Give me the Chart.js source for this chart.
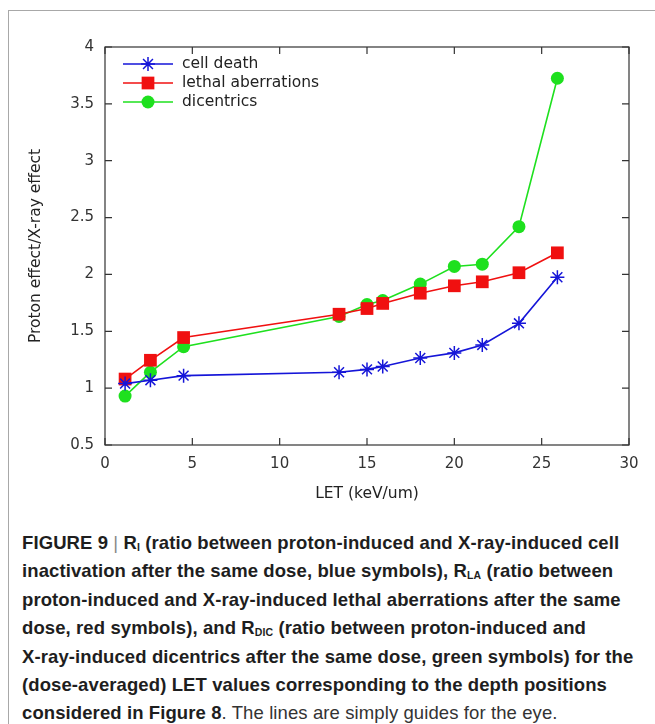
<!DOCTYPE html>
<html>
<head>
<meta charset="utf-8">
<script src="https://cdn.jsdelivr.net/npm/chart.js@4.4.1/dist/chart.umd.min.js"></script>
<style>
  html, body { margin: 0; padding: 0; background: #fff; }
  body { width: 655px; height: 724px; position: relative; overflow: hidden; }
  #frame {
    position: absolute; left: 8px; top: 10px; width: 700px; height: 760px;
    border-top: 1.5px solid #a8a8a8; border-left: 1.5px solid #a8a8a8;
  }
  #chart { position: absolute; left: 0; top: 0; }
  #caption {
    position: absolute; left: 22px; top: 529px; width: 660px;
    font-family: "Liberation Sans", Arial, sans-serif; font-size: 18.5px;
    font-weight: bold; color: #1e1e1e; letter-spacing: 0.1px;
  }
  #caption div { white-space: nowrap; height: 28.4px; line-height: 28.4px; }
  #caption sub { font-size: 10.5px; line-height: 0; vertical-align: baseline; position: relative; top: 2px; }
  #caption .bar { font-weight: normal; color: #888; }
  #caption .plain { font-weight: normal; color: #333; }
</style>
</head>
<body>
<div id="frame"></div>
<canvas id="chart" width="655" height="520"></canvas>
<div id="caption">
  <div>FIGURE 9 <span class="bar">|</span> R<sub>I</sub> (ratio between proton-induced and X-ray-induced cell</div>
  <div>inactivation after the same dose, blue symbols), R<sub>LA</sub> (ratio between</div>
  <div>proton-induced and X-ray-induced lethal aberrations after the same</div>
  <div>dose, red symbols), and R<sub>DIC</sub> (ratio between proton-induced and</div>
  <div>X-ray-induced dicentrics after the same dose, green symbols) for the</div>
  <div>(dose-averaged) LET values corresponding to the depth positions</div>
  <div>considered in Figure 8<span class="plain">. The lines are simply guides for the eye.</span></div>
</div>
<script>
// values
const letValues = [1.15, 2.6, 4.5, 13.4, 15.0, 15.9, 18.05, 20.0, 21.6, 23.7, 25.9];
const cellDeath = [1.04, 1.07, 1.11, 1.14, 1.165, 1.19, 1.265, 1.31, 1.38, 1.57, 1.975];
const lethalAberrations = [1.08, 1.245, 1.445, 1.65, 1.70, 1.745, 1.835, 1.90, 1.935, 2.015, 2.19];
const dicentrics = [0.93, 1.14, 1.365, 1.63, 1.735, 1.77, 1.915, 2.07, 2.09, 2.42, 3.725];
const xTicks = [0, 5, 10, 15, 20, 25, 30];
const yTicks = [0.5, 1, 1.5, 2, 2.5, 3, 3.5, 4];

const pts = (ys) => ys.map((y, i) => ({ x: letValues[i], y: y }));
const FONT = "'DejaVu Sans', sans-serif";

// gnuplot style box with inward ticks on all four sides, plus key
const boxPlugin = {
  id: 'gnuBox',
  afterDraw(chart) {
    const { ctx, chartArea: a, scales } = chart;
    const tl = 7;
    ctx.save();
    ctx.strokeStyle = '#333';
    ctx.lineWidth = 1.2;
    ctx.strokeRect(a.left, a.top, a.right - a.left, a.bottom - a.top);
    ctx.beginPath();
    xTicks.forEach(v => {
      const px = scales.x.getPixelForValue(v);
      ctx.moveTo(px, a.bottom); ctx.lineTo(px, a.bottom - tl);
      ctx.moveTo(px, a.top); ctx.lineTo(px, a.top + tl);
    });
    yTicks.forEach(v => {
      const py = scales.y.getPixelForValue(v);
      ctx.moveTo(a.left, py); ctx.lineTo(a.left + tl, py);
      ctx.moveTo(a.right, py); ctx.lineTo(a.right - tl, py);
    });
    ctx.stroke();

    // key
    chart.data.datasets.forEach((ds, i) => {
      const y = 64 + i * 19;
      ctx.strokeStyle = ds.borderColor;
      ctx.lineWidth = ds.borderWidth;
      ctx.beginPath();
      ctx.moveTo(123, y); ctx.lineTo(173, y);
      ctx.stroke();
      ctx.fillStyle = ds.pointBackgroundColor;
      ctx.strokeStyle = ds.pointBorderColor;
      ctx.lineWidth = ds.pointBorderWidth;
      Chart.helpers.drawPoint(ctx, { pointStyle: ds.pointStyle, radius: ds.pointRadius, rotation: 0, borderWidth: ds.pointBorderWidth }, 148, y);
      ctx.fillStyle = '#222';
      ctx.font = '15.5px ' + FONT;
      ctx.textBaseline = 'middle';
      ctx.textAlign = 'left';
      ctx.fillText(ds.label, 182, y);
    });
    ctx.restore();
  }
};

new Chart(document.getElementById('chart'), {
  type: 'line',
  data: {
    datasets: [
      {
        label: 'cell death', data: pts(cellDeath),
        borderColor: '#1515d8', borderWidth: 1.6,
        pointStyle: 'star', pointRadius: 7, pointBorderWidth: 1.5,
        pointBorderColor: '#1515d8', pointBackgroundColor: '#1515d8'
      },
      {
        label: 'lethal aberrations', data: pts(lethalAberrations),
        borderColor: '#f01010', borderWidth: 1.6,
        pointStyle: 'rect', pointRadius: 9, pointBorderWidth: 0,
        pointBorderColor: '#f01010', pointBackgroundColor: '#f01010'
      },
      {
        label: 'dicentrics', data: pts(dicentrics),
        borderColor: '#1ee01e', borderWidth: 1.6,
        pointStyle: 'circle', pointRadius: 6.5, pointBorderWidth: 0,
        pointBorderColor: '#1ee01e', pointBackgroundColor: '#1ee01e'
      }
    ]
  },
  options: {
    responsive: false,
    animation: false,
    devicePixelRatio: 1,
    layout: { padding: { left: 0, right: 26, top: 47, bottom: 0 } },
    elements: { line: { tension: 0 } },
    plugins: { legend: { display: false }, tooltip: { enabled: false } },
    scales: {
      x: {
        type: 'linear', min: 0, max: 30,
        afterBuildTicks: (s) => { s.ticks = xTicks.map(v => ({ value: v })); },
        afterFit: (s) => { s.height = 75; },
        grid: { display: false, drawTicks: false },
        border: { display: false },
        ticks: { color: '#333', padding: 10, font: { family: FONT, size: 15 }, callback: (v) => String(v) },
        title: { display: true, text: 'LET (keV/um)', color: '#222', padding: { bottom: 17 }, font: { family: FONT, size: 15.5 } }
      },
      y: {
        type: 'linear', min: 0.5, max: 4,
        afterBuildTicks: (s) => { s.ticks = yTicks.map(v => ({ value: v })); },
        afterFit: (s) => { s.width = 105; },
        grid: { display: false, drawTicks: false },
        border: { display: false },
        ticks: { color: '#333', padding: 11, font: { family: FONT, size: 15 }, callback: (v) => String(v) },
        title: { display: true, text: 'Proton effect/X-ray effect', color: '#222', padding: { top: 27 }, font: { family: FONT, size: 15.5 } }
      }
    }
  },
  plugins: [boxPlugin]
});
</script>
</body>
</html>
